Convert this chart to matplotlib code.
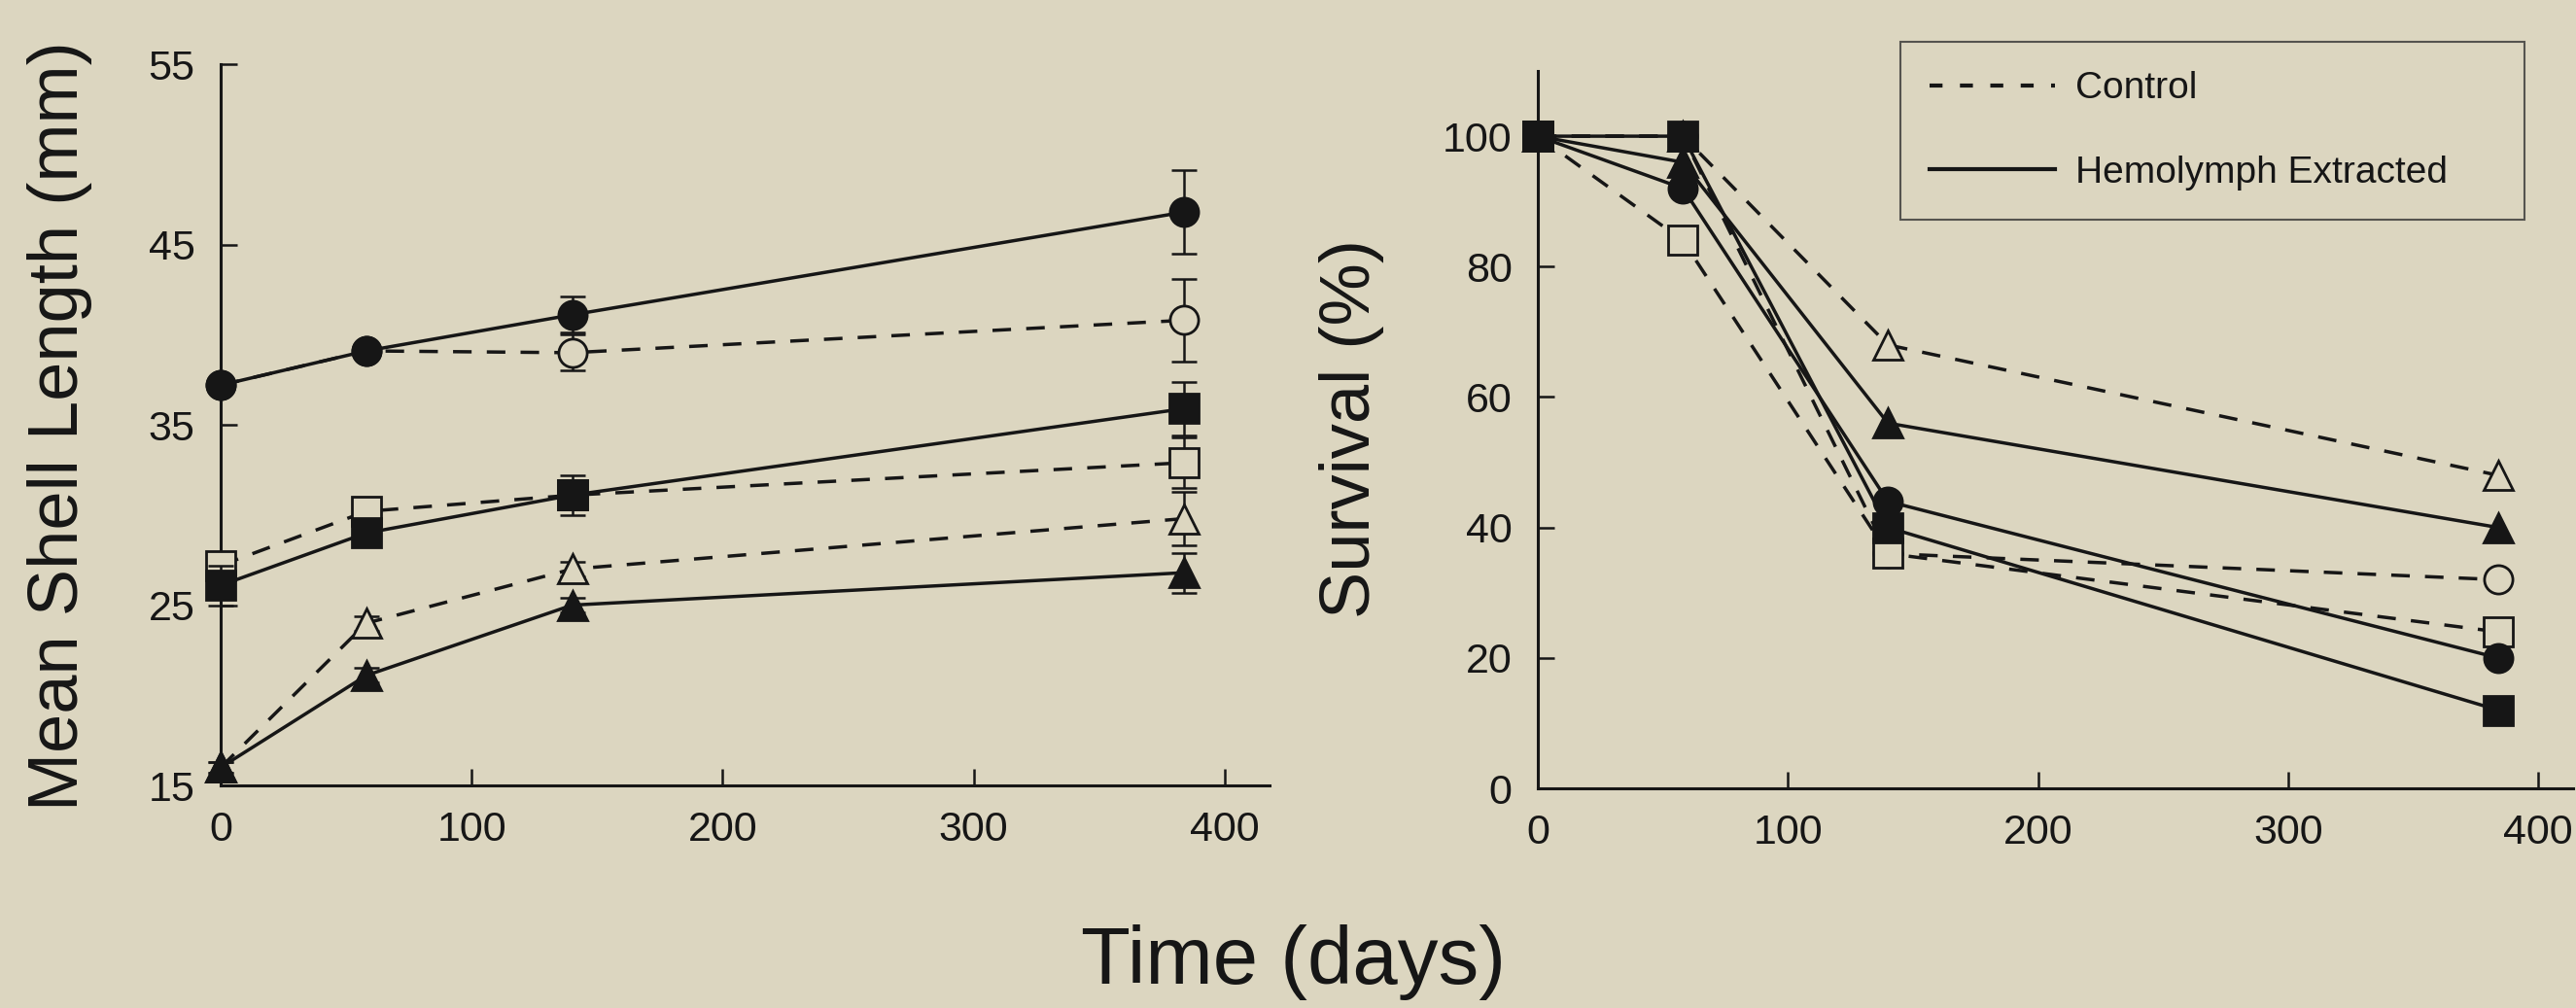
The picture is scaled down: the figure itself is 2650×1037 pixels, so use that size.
import matplotlib.pyplot as plt
from matplotlib.lines import Line2D

plt.rcParams['font.family'] = ['Liberation Sans', 'DejaVu Sans']

BG = '#dcd6c0'
INK = '#161616'

days = [0, 58, 140, 384]

# mean shell length (mm), +/- error, per size group
len_large_hem = [37.2, 39.1, 41.1, 46.8]
len_large_hem_err = [0.3, 0.3, 1.0, 2.3]
len_large_ctl = [37.2, 39.1, 39.0, 40.8]
len_large_ctl_err = [0.3, 0.3, 1.0, 2.3]
len_med_hem = [26.1, 29.0, 31.1, 35.9]
len_med_hem_err = [1.1, 0.5, 1.1, 1.5]
len_med_ctl = [27.2, 30.2, 31.1, 32.9]
len_med_ctl_err = [0.4, 0.4, 0.5, 1.4]
len_small_hem = [16.0, 21.1, 25.0, 26.8]
len_small_hem_err = [0.3, 0.4, 0.4, 1.1]
len_small_ctl = [16.0, 24.0, 27.0, 29.8]
len_small_ctl_err = [0.3, 0.4, 0.4, 1.5]

# survival (%)
surv_large_hem = [100, 92, 44, 20]
surv_large_ctl = [100, 100, 36, 32]
surv_med_hem = [100, 100, 40, 12]
surv_med_ctl = [100, 84, 36, 24]
surv_small_hem = [100, 96, 56, 40]
surv_small_ctl = [100, 100, 68, 48]

DASH = (0, (5.5, 4.5))


def draw(ax, y, marker, filled, err=None):
    face = INK if filled else BG
    ls = '-' if filled else DASH
    z = 4 if filled else 3
    if err is not None:
        ax.errorbar(days, y, yerr=err, fmt='none', ecolor=INK, elinewidth=1.8,
                    capsize=9.5, capthick=1.8, zorder=z - 0.5, clip_on=False)
    ax.plot(days, y, color=INK, lw=2.5, linestyle=ls, marker=marker, ms=21,
            mfc=face, mec=INK, mew=2.0, zorder=z, clip_on=False)


def style(ax):
    ax.set_facecolor('none')
    for s in ['top', 'right']:
        ax.spines[s].set_visible(False)
    for s in ['left', 'bottom']:
        ax.spines[s].set_linewidth(2.2)
        ax.spines[s].set_color(INK)
    ax.tick_params(direction='in', length=12, width=1.8, color=INK,
                   labelsize=31, labelcolor=INK, pad=19)


fig = plt.figure(figsize=(26.5, 10.37), dpi=100, facecolor=BG)

ax1 = fig.add_axes([0.0857, 0.2208, 0.4072, 0.7155])
draw(ax1, len_large_ctl, 'o', False, len_large_ctl_err)
draw(ax1, len_med_ctl, 's', False, len_med_ctl_err)
draw(ax1, len_small_ctl, '^', False, len_small_ctl_err)
draw(ax1, len_large_hem, 'o', True, len_large_hem_err)
draw(ax1, len_med_hem, 's', True, len_med_hem_err)
draw(ax1, len_small_hem, '^', True, len_small_hem_err)
ax1.set_xlim(0, 418)
ax1.set_ylim(15, 55)
ax1.set_xticks([0, 100, 200, 300, 400])
ax1.set_yticks([15, 25, 35, 45, 55])
style(ax1)

ax2 = fig.add_axes([0.5970, 0.2179, 0.4019, 0.7117])
draw(ax2, surv_large_ctl, 'o', False)
draw(ax2, surv_med_ctl, 's', False)
draw(ax2, surv_small_ctl, '^', False)
draw(ax2, surv_large_hem, 'o', True)
draw(ax2, surv_small_hem, '^', True)
draw(ax2, surv_med_hem, 's', True)
ax2.set_xlim(0, 414)
ax2.set_ylim(0, 110)
ax2.set_xticks([0, 100, 200, 300, 400])
ax2.set_yticks([0, 20, 40, 60, 80, 100])
style(ax2)

fig.text(62 / 2650, 1 - 438 / 1037, 'Mean Shell Length (mm)', rotation=90,
         ha='center', va='center', fontsize=52, color=INK)
fig.text(1391 / 2650, 1 - 441 / 1037, 'Survival (%)', rotation=90,
         ha='center', va='center', fontsize=52, color=INK)
fig.text(1330 / 2650, 1 - 1012 / 1037, 'Time (days)', ha='center',
         va='baseline', fontsize=60, color=INK)

handles = [Line2D([], [], color=INK, lw=3, linestyle=(0, (3.2, 4.3))),
           Line2D([], [], color=INK, lw=3)]
leg = ax2.legend(handles, ['Control', 'Hemolymph Extracted'],
                 bbox_to_anchor=(1955 / 2650, 1 - 225 / 1037,
                                 (2597 - 1955) / 2650, (225 - 43) / 1037),
                 bbox_transform=fig.transFigure, loc='upper left', mode='expand',
                 fontsize=28, handlelength=3.3, handletextpad=0.55,
                 labelspacing=1.3, borderpad=0.78, borderaxespad=0,
                 fancybox=False, frameon=True)
leg.get_frame().set_facecolor(BG)
leg.get_frame().set_edgecolor('#333333')
leg.get_frame().set_linewidth(1.5)
for t in leg.get_texts():
    t.set_color(INK)

fig.savefig('out.png', dpi=100, facecolor=BG)
